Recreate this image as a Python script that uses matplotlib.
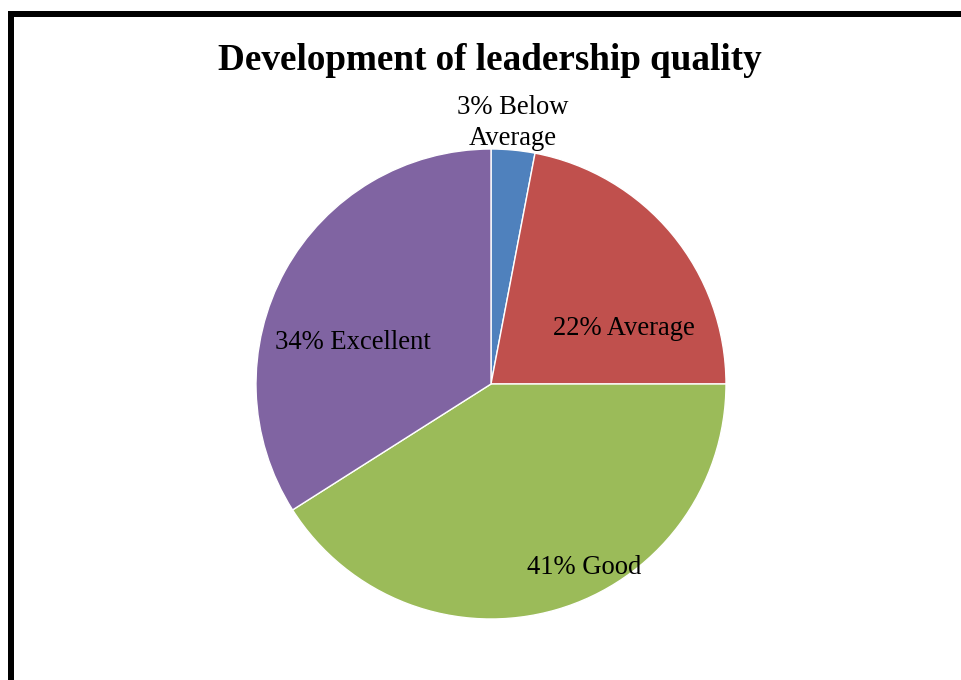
import matplotlib
matplotlib.use("Agg")
import matplotlib.pyplot as plt
from matplotlib.lines import Line2D
import numpy as np

categories = ["Below\nAverage", "Average", "Good", "Excellent"]
values = [3, 22, 41, 34]
colors = ["#4F81BD", "#C0504D", "#9BBB59", "#8064A2"]
title = "Development of leadership quality"

W, H = 961, 680
fig = plt.figure(figsize=(W / 100, H / 100), dpi=100)
fig.patch.set_facecolor("white")

cx, cy, R = 491, 384, 235
ax = fig.add_axes([(cx - R) / W, (H - cy - R) / H, 2 * R / W, 2 * R / H])
wedges, _ = ax.pie(values, colors=colors, startangle=90, counterclock=False,
                   radius=1.0, wedgeprops=dict(edgecolor="white", linewidth=1.0))
ax.set_xlim(-1, 1)
ax.set_ylim(-1, 1)
ax.set_aspect("equal")
ax.axis("off")

# label placement (pie units), Excel "best fit" style
label_pos = [(0.094, 1.110), (0.566, 0.235), (0.396, -0.782), (-0.587, 0.175)]
for cat, v, (lx, ly) in zip(categories, values, label_pos):
    txt = f"{v}% {cat}"
    ax.text(lx, ly, txt, ha="center", va="center", fontsize=19.2,
            family="Liberation Serif", color="black", clip_on=False,
            linespacing=1.3)

fig.text(490 / W, 1 - 61 / H, title, ha="center", va="center",
         fontsize=26.7, fontweight="bold", family="Liberation Serif")

# frame border (top and left, extending off canvas)
lw = 6 * 0.72
fig.add_artist(Line2D([11 / W, 1.01], [1 - 14 / H, 1 - 14 / H], color="black",
                      lw=lw, transform=fig.transFigure, solid_capstyle="projecting"))
fig.add_artist(Line2D([11 / W, 11 / W], [1 - 14 / H, -0.01], color="black",
                      lw=lw, transform=fig.transFigure, solid_capstyle="projecting"))

fig.savefig("out.png", dpi=100)
